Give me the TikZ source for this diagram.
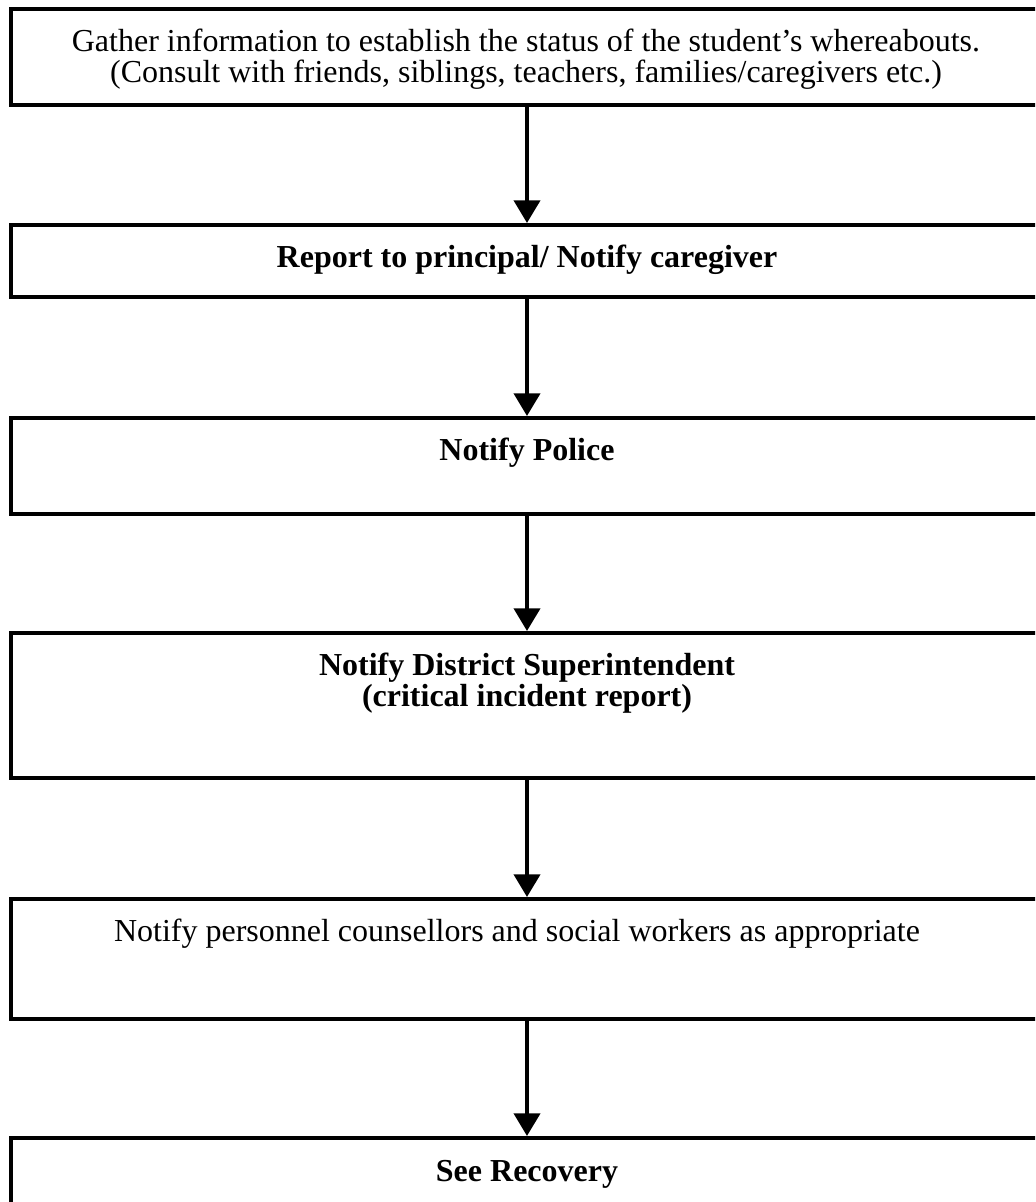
\documentclass[tikz,border=0pt]{standalone}
\usepackage{fontspec}
\setmainfont{Liberation Serif}
\usetikzlibrary{arrows.meta}

\tikzset{
  flowbox/.style={draw, rectangle, line width=3pt, anchor=north, inner sep=0pt,
    minimum width=774pt},
  flowtext/.style={anchor=base, align=center, inner sep=0pt,
    font=\fontsize{24}{23.5}\selectfont},
  flowarrow/.style={line width=3pt, -{Triangle[width=19.5pt,length=17pt]}}
}

\begin{document}
\begin{tikzpicture}[x=0.75pt,y=-0.75pt]
  \useasboundingbox (0,0) rectangle (1035,1202);
  \clip (0,0) rectangle (1035,1202);
  % the six steps, top to bottom: name/top edge/height
  \foreach \n/\t/\h in {1/7.5/95.5, 2/223/72, 3/416/96, 4/631/145, 5/897/120, 6/1136/100}
    \node[flowbox, minimum height=\h*0.75pt] (b\n) at (527,\t) {};
  % texts (base = baseline of the last line)
  \node[flowtext] (t1) at (526,83) {Gather information to establish the status of the student’s whereabouts.\\(Consult with friends, siblings, teachers, families/caregivers etc.)};
  \node[flowtext] (t2) at (527,267.5) {\textbf{Report to principal/ Notify caregiver}};
  \node[flowtext] (t3) at (527,460.5) {\textbf{Notify Police}};
  \node[flowtext] (t4) at (527,706.5) {\textbf{Notify District Superintendent}\\\textbf{(critical incident report)}};
  \node[flowtext] (t5) at (517,941.5) {Notify personnel counsellors and social workers as appropriate};
  \node[flowtext] (t6) at (527,1181) {\textbf{See Recovery}};
  % arrows
  \foreach \a/\b in {1/2,2/3,3/4,4/5,5/6}
    \draw[flowarrow] (b\a.south) -- (b\b.north);
\end{tikzpicture}
\end{document}
